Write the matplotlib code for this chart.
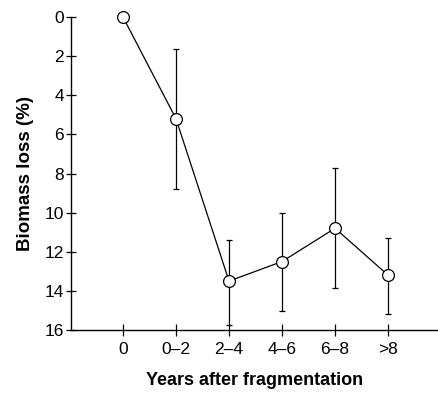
import matplotlib
matplotlib.use("Agg")
import matplotlib.pyplot as plt
import numpy as np

# data
periods = ["0", "0\u20132", "2\u20134", "4\u20136", "6\u20138", ">8"]
loss = [0.0, 5.2, 13.5, 12.5, 10.8, 13.2]
err_top = [0.0, 1.65, 11.4, 10.0, 7.7, 11.3]      # upper end of bar (smaller loss)
err_bottom = [0.0, 8.8, 15.75, 15.05, 13.85, 15.2]  # lower end of bar (larger loss)

plt.rcParams['font.family'] = ['Liberation Sans', 'DejaVu Sans']

x = np.arange(len(periods))
loss = np.array(loss)
lo = loss - np.array(err_top)
hi = np.array(err_bottom) - loss

fig = plt.figure(figsize=(4.39, 3.93), dpi=100)
ax = fig.add_axes([71/439, 1 - 330/393, 1 - 71/439, (330 - 17)/393])

ax.errorbar(x[1:], loss[1:], yerr=[lo[1:], hi[1:]], fmt='none', ecolor='black',
            elinewidth=0.9, capsize=2.5, capthick=0.9, zorder=2)
ax.plot(x, loss, color='black', lw=0.9, zorder=3)
ax.plot(x, loss, 'o', ms=8.5, mfc='white', mec='black', mew=0.9, zorder=4,
        clip_on=False)

ax.set_xlim(-0.98, 5.96)
ax.set_ylim(16, 0)
ax.set_yticks(range(0, 17, 2))
ax.set_xticks(x)
ax.set_xticklabels(periods)

for s in ['top', 'right']:
    ax.spines[s].set_visible(False)
ax.spines['left'].set_linewidth(1.0)
ax.spines['bottom'].set_linewidth(1.0)

ax.tick_params(axis='y', direction='inout', length=7, width=0.9, labelsize=12.5, pad=1.5)
ax.tick_params(axis='x', direction='inout', length=8, width=0.9, labelsize=12.5, pad=4.5)

ax.set_ylabel("Biomass loss (%)", fontsize=13.5, fontweight='bold', labelpad=8)
ax.set_xlabel("Years after fragmentation", fontsize=13, fontweight='bold', labelpad=11)

fig.savefig("out.png", dpi=100)
